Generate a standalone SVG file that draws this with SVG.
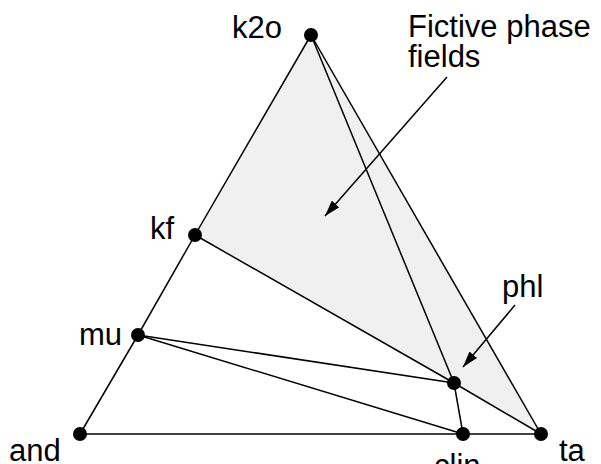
<svg xmlns="http://www.w3.org/2000/svg" width="601" height="464" viewBox="0 0 601 464">
<defs>
<style>
.l{stroke:#000;stroke-width:1.5;fill:none}
.d{fill:#000}
text{font-family:"Liberation Sans",Arial,sans-serif;font-size:31px;fill:#000}
</style>
<marker id="ah" viewBox="0 0 16 10" refX="16" refY="5" markerWidth="16" markerHeight="10" markerUnits="userSpaceOnUse" orient="auto">
<path d="M0,0 L16,5 L0,10 Z" fill="#000"/>
</marker>
</defs>
<rect width="601" height="464" fill="#fff"/>
<polygon points="311,35 195,235 454,383 541,434" fill="#f0f0f0"/>
<g id="connectors">
<polyline class="l" points="80,434 138,335 195,235 311,35"/>
<line class="l" x1="80" y1="434" x2="541" y2="434"/>
<line class="l" x1="311" y1="35" x2="541" y2="434"/>
<line class="l" x1="311" y1="35" x2="454" y2="383"/>
<line class="l" x1="195" y1="235" x2="454" y2="383"/>
<line class="l" x1="454" y1="383" x2="541" y2="434"/>
<line class="l" x1="138" y1="335" x2="454" y2="383"/>
<line class="l" x1="138" y1="335" x2="463" y2="434"/>
<line class="l" x1="454" y1="383" x2="463" y2="434"/>
<line class="l" x1="447" y1="77" x2="325" y2="216" stroke-width="1" marker-end="url(#ah)"/>
<line class="l" x1="515" y1="305" x2="463" y2="367" stroke-width="1" marker-end="url(#ah)"/>
</g>
<g id="k2o"><circle class="d" cx="311" cy="35" r="7"/><text x="232" y="38">k2o</text></g>
<g id="kf"><circle class="d" cx="195" cy="235" r="7"/><text x="150" y="239">kf</text></g>
<g id="mu"><circle class="d" cx="138" cy="335" r="7"/><text x="79" y="345">mu</text></g>
<g id="and"><circle class="d" cx="80" cy="434" r="7"/><text x="9" y="461">and</text></g>
<g id="clin"><circle class="d" cx="463" cy="434" r="7"/><text x="434" y="476">clin</text></g>
<g id="ta"><circle class="d" cx="541" cy="434" r="7"/><text x="559" y="461">ta</text></g>
<g id="phl"><circle class="d" cx="454" cy="383" r="7"/><text x="502" y="297">phl</text></g>
<g id="label"><text x="408" y="37">Fictive phase<tspan x="408" dy="30">fields</tspan></text></g>
</svg>
